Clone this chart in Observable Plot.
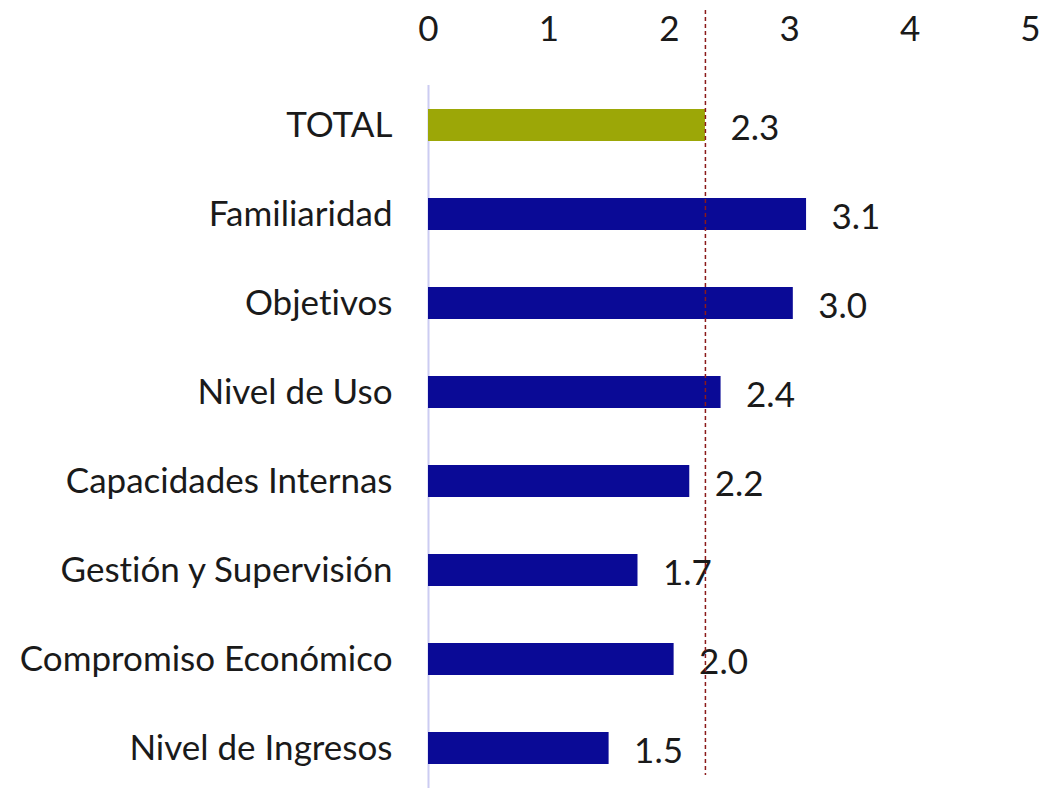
<!DOCTYPE html>
<html>
<head>
<meta charset="utf-8">
<script src="https://cdn.jsdelivr.net/npm/d3@7"></script>
<script src="https://cdn.jsdelivr.net/npm/@observablehq/plot@0.6"></script>
<style>
  html, body { margin: 0; padding: 0; background: #ffffff; }
  svg text { font-variant-ligatures: none; font-feature-settings: "liga" 0, "clig" 0; }
</style>
</head>
<body>
<div id="chart"></div>
<script>
const categories = ["TOTAL", "Familiaridad", "Objetivos", "Nivel de Uso", "Capacidades Internas", "Gestión y Supervisión", "Compromiso Económico", "Nivel de Ingresos"];
const values = [2.30, 3.14, 3.03, 2.43, 2.17, 1.74, 2.04, 1.50];
const groups = ["total", "dim", "dim", "dim", "dim", "dim", "dim", "dim"];
const xTicks = [0, 1, 2, 3, 4, 5];
const referenceValue = [2.3];

const data = categories.map((c, i) => ({category: c, value: values[i], group: groups[i]}));

const chart = Plot.plot({
  width: 1048,
  height: 788,
  marginLeft: 428,
  marginRight: 18,
  marginTop: 85,
  marginBottom: 0,
  style: {fontFamily: "Lato, 'Open Sans', sans-serif", fontSize: "35px", color: "#1a1a1a", background: "#ffffff", overflow: "visible"},
  x: {domain: [0, 5], ticks: xTicks, tickFormat: d => String(d), axis: "top", tickSize: 0, tickPadding: 45, label: null},
  y: {domain: categories, paddingInner: 0.64, paddingOuter: 0.269, tickSize: 0, tickPadding: 36, label: null},
  color: {domain: ["total", "dim"], range: ["#9ca707", "#0a0a96"]},
  marks: [
    Plot.ruleX([0], {stroke: "#ccccf2", strokeWidth: 2}),
    Plot.barX(data, {x: "value", y: "category", fill: "group"}),
    Plot.text(data, {x: "value", y: "category", text: d => d.value.toFixed(1), textAnchor: "start", dx: 25, dy: 3, fill: "#1a1a1a"}),
    Plot.ruleX(referenceValue, {stroke: "#8b1a1a", strokeWidth: 1.5, strokeDasharray: "4,3", insetTop: -75, insetBottom: 13})
  ]
});
document.getElementById("chart").appendChild(chart);
</script>
</body>
</html>
